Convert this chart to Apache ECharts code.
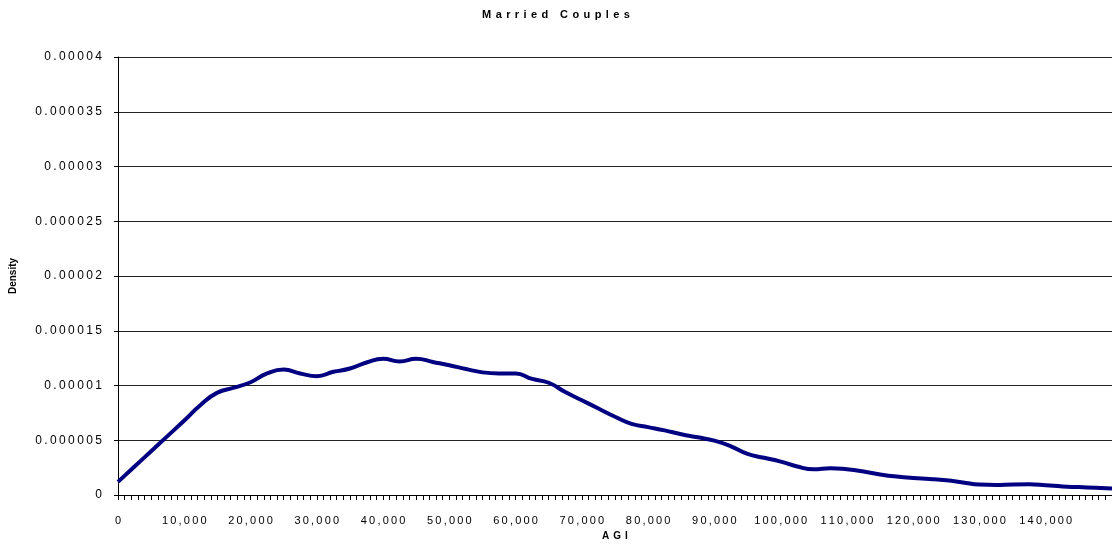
<!DOCTYPE html>
<html>
<head>
<meta charset="utf-8">
<script src="https://cdn.jsdelivr.net/npm/echarts@6/dist/echarts.min.js"></script>
<style>
  html, body { margin: 0; padding: 0; background: #fff; }
  #chart { width: 1112px; height: 547px; }
</style>
</head>
<body>
<div id="chart"></div>
<script>
// AGI points (dollars) and density
var agi = [0, 2500, 5000, 7500, 10000, 12500, 15000, 17500, 20000, 22500,
  25000, 27500, 30000, 32500, 35000, 37500, 40000, 42500, 45000, 47500,
  50000, 52500, 55000, 57500, 60000, 62500, 65000, 67500, 70000, 72500,
  75000, 77500, 80000, 82500, 85000, 87500, 90000, 92500, 95000, 97500,
  100000, 102500, 105000, 107500, 110000, 112500, 115000, 117500, 120000, 122500,
  125000, 127500, 130000, 132500, 135000, 137500, 140000, 142500, 145000, 147500, 150000];
// density in units of 1e-6
var density = [1.2, 2.6, 4.0, 5.4, 6.8, 8.25, 9.35, 9.8, 10.3, 11.1,
  11.45, 11.1, 10.85, 11.25, 11.55, 12.1, 12.45, 12.2, 12.45, 12.15,
  11.85, 11.5, 11.2, 11.1, 11.1, 10.6, 10.25, 9.4, 8.65, 7.9,
  7.15, 6.5, 6.2, 5.9, 5.55, 5.27, 4.96, 4.45, 3.75, 3.4,
  3.05, 2.6, 2.35, 2.45, 2.35, 2.15, 1.88, 1.68, 1.55, 1.47,
  1.35, 1.15, 0.95, 0.92, 0.97, 0.98, 0.9, 0.78, 0.72, 0.66, 0.6];
var yTicks = [0, 0.000005, 0.00001, 0.000015, 0.00002, 0.000025, 0.00003, 0.000035, 0.00004];
var xTicks = [0, 10000, 20000, 30000, 40000, 50000, 60000, 70000, 80000, 90000,
  100000, 110000, 120000, 130000, 140000];

function spaced(s, gap) {
  return s.split('').join(gap || '\u2009');
}

var points = agi.map(function (a, i) { return [a, density[i] * 1e-6]; });

var option = {
  animation: false,
  title: {
    text: spaced('Married Couples', '\u2009\u2009'),
    left: 'center',
    top: 4,
    textStyle: { fontFamily: 'Liberation Sans', fontSize: 11, fontWeight: 'bold', color: '#000' }
  },
  grid: { left: 118, right: 0, top: 57, bottom: 52, outerBoundsMode: 'none' },
  xAxis: {
    type: 'value',
    min: 0,
    max: 150000,
    interval: 10000,
    name: spaced('AGI', '\u2009\u2009'),
    nameLocation: 'middle',
    nameGap: 31,
    nameTextStyle: { fontFamily: 'Liberation Sans', fontSize: 10, fontWeight: 'bold', color: '#000' },
    axisLine: { lineStyle: { color: '#000', width: 1 } },
    axisTick: { show: true, length: 5, lineStyle: { color: '#000' } },
    minorTick: { show: true, splitNumber: 10, length: 5, lineStyle: { color: '#000' } },
    splitLine: { show: false },
    axisLabel: {
      margin: 20,
      fontFamily: 'Liberation Sans',
      fontSize: 11,
      color: '#000',
      formatter: function (v) {
        if (xTicks.indexOf(v) < 0) return '';
        return spaced(v.toString().replace(/\B(?=(\d{3})+(?!\d))/g, ','));
      }
    }
  },
  yAxis: {
    type: 'value',
    min: 0,
    max: 0.00004,
    interval: 0.000005,
    name: 'Density',
    nameLocation: 'middle',
    nameRotate: 90,
    nameGap: 100,
    nameTextStyle: { fontFamily: 'Liberation Sans', fontSize: 10, fontWeight: 'bold', color: '#000' },
    axisLine: { show: true, lineStyle: { color: '#000', width: 1 } },
    axisTick: { show: true, length: 4, lineStyle: { color: '#000' } },
    splitLine: { show: true, lineStyle: { color: '#222', width: 1 } },
    axisLabel: {
      margin: 16,
      fontFamily: 'Liberation Sans',
      fontSize: 12,
      color: '#000',
      formatter: function (v) {
        var r = parseFloat(v.toFixed(6));
        var idx = yTicks.indexOf(r);
        return idx < 0 ? '' : spaced(String(yTicks[idx]));
      }
    }
  },
  series: [{
    type: 'line',
    data: points,
    smooth: true,
    showSymbol: false,
    lineStyle: { color: '#000080', width: 4 }
  }]
};

var chart = echarts.init(document.getElementById('chart'));
chart.setOption(option);
</script>
</body>
</html>
